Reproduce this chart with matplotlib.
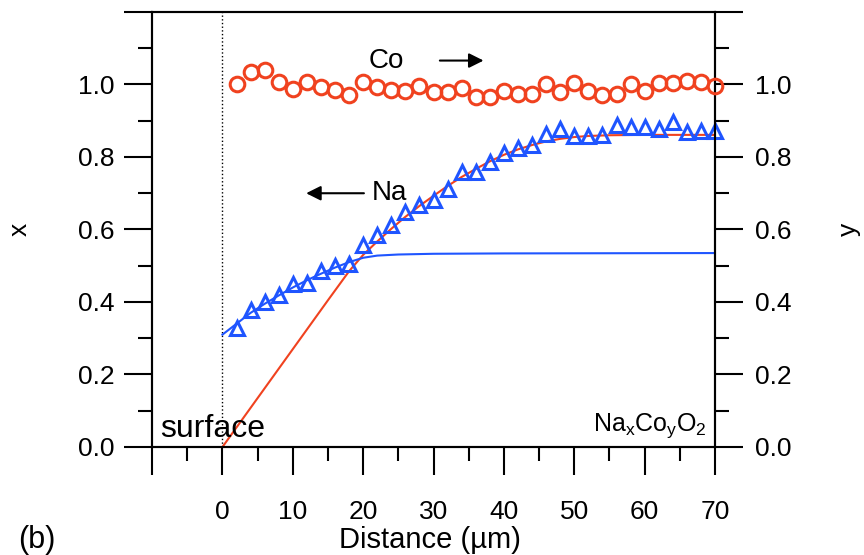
import numpy as np
import matplotlib
matplotlib.use("Agg")
import matplotlib.pyplot as plt
from matplotlib.ticker import FixedLocator, MultipleLocator

plt.rcParams['font.family'] = ['Liberation Sans', 'DejaVu Sans']
plt.rcParams['mathtext.default'] = 'regular'

# Co profile (circles, right axis y)
co_dist = np.arange(2, 71, 2)
co_y = [1.000, 1.034, 1.040, 1.006, 0.988, 1.006, 0.994, 0.985, 0.972, 1.006,
        0.994, 0.985, 0.982, 0.997, 0.979, 0.979, 0.990, 0.965, 0.965, 0.982,
        0.974, 0.974, 1.000, 0.979, 1.004, 0.982, 0.970, 0.974, 1.000, 0.982,
        1.004, 1.004, 1.009, 1.006, 0.997]

# Na profile (triangles, left axis x)
na_dist = np.arange(2, 71, 2)
na_x = [0.327, 0.377, 0.400, 0.420, 0.450, 0.452, 0.486, 0.500, 0.506, 0.556,
        0.585, 0.612, 0.648, 0.667, 0.680, 0.713, 0.758, 0.758, 0.786, 0.811,
        0.826, 0.832, 0.864, 0.878, 0.857, 0.859, 0.862, 0.887, 0.882, 0.882,
        0.878, 0.896, 0.869, 0.873, 0.873]

# fitted curves
red_dist = [0, 5, 10, 15, 18, 20, 22, 24, 26, 28, 30, 32, 34, 36, 38, 40, 42,
            44, 46, 48, 50, 52, 55, 60, 70]
red_x = [0.0, 0.135, 0.27, 0.405, 0.485, 0.53, 0.567, 0.602, 0.635, 0.665,
         0.693, 0.72, 0.745, 0.767, 0.788, 0.806, 0.821, 0.833, 0.843, 0.85,
         0.855, 0.858, 0.86, 0.861, 0.861]
blue_dist = [0, 2, 4, 6, 8, 10, 12, 14, 16, 18, 20, 22, 25, 30, 40, 70]
blue_x = [0.31, 0.34, 0.37, 0.395, 0.418, 0.44, 0.46, 0.478, 0.495, 0.51,
          0.522, 0.528, 0.531, 0.533, 0.534, 0.535]

RED = '#f0421f'
BLUE = '#1f55ff'

fig = plt.figure(figsize=(8.64, 5.55), dpi=100)
ax = fig.add_axes([0.176, 0.1946, 0.6516, 0.7838])
ax2 = ax.twinx()

ax.axvline(0, color='k', ls=':', lw=1)
ax.plot(red_dist, red_x, color=RED, lw=1.5, zorder=2)
ax.plot(blue_dist, blue_x, color=BLUE, lw=1.5, zorder=2)
ax.plot(na_dist, na_x, ls='none', marker='^', ms=10.5, mfc='none',
        mec=BLUE, mew=2.2, zorder=3, clip_on=False)
ax2.plot(co_dist, co_y, ls='none', marker='o', ms=10.5, mfc='none',
         mec=RED, mew=2.2, zorder=3, clip_on=False)

for a in (ax, ax2):
    a.set_xlim(-10, 70)
    a.set_ylim(0, 1.2)
    for s in a.spines.values():
        s.set_linewidth(1.5)
    a.yaxis.set_major_locator(FixedLocator(np.arange(0, 1.21, 0.2)))
    a.yaxis.set_minor_locator(FixedLocator(np.arange(0.1, 1.2, 0.2)))
    a.set_yticklabels(['0.0', '0.2', '0.4', '0.6', '0.8', '1.0', ''])

ax.xaxis.set_minor_locator(MultipleLocator(5))
ax.set_xticks(np.arange(-10, 71, 10))
ax.set_xticklabels([''] + [str(v) for v in range(0, 71, 10)])

ax.tick_params(axis='x', which='major', direction='out', length=20, width=1.5,
               pad=18, labelsize=19)
ax.tick_params(axis='x', which='minor', direction='out', length=10, width=1.5)
ax.tick_params(axis='y', which='major', direction='out', length=20, width=1.5,
               pad=7, labelsize=19, left=True, right=False)
ax.tick_params(axis='y', which='minor', direction='out', length=10, width=1.5,
               left=True, right=False)
ax2.tick_params(axis='y', which='major', direction='out', length=20, width=1.5,
                pad=9, labelsize=19)
ax2.tick_params(axis='y', which='minor', direction='out', length=10, width=1.5)

ax.set_xlabel('Distance (µm)', fontsize=21)
ax.xaxis.set_label_coords(0.494, -0.182)
ax.set_ylabel('x', fontsize=19)
ax.yaxis.set_label_coords(-0.213, 0.5)
ax2.set_ylabel('y', fontsize=19)
ax2.yaxis.set_label_coords(1.216, 0.5)

ax.text(20.8, 1.066, 'Co', fontsize=20, va='center', ha='left')
ax.annotate('', xy=(37.5, 1.066), xytext=(30.5, 1.066),
            arrowprops=dict(arrowstyle='-|>', color='k', lw=1.5,
                            mutation_scale=22))
ax.text(21.2, 0.70, 'Na', fontsize=20, va='center', ha='left')
ax.annotate('', xy=(11.5, 0.70), xytext=(20.5, 0.70),
            arrowprops=dict(arrowstyle='-|>', color='k', lw=1.5,
                            mutation_scale=22))
ax.text(-8.9, 0.008, 'surface', fontsize=23, va='bottom', ha='left')
ax.text(68.8, 0.02, 'Na$_x$Co$_y$O$_2$', fontsize=18, va='bottom', ha='right')

fig.text(0.021, 0.0, '(b)', fontsize=22, ha='left', va='bottom')

fig.savefig('out.png', dpi=100)
